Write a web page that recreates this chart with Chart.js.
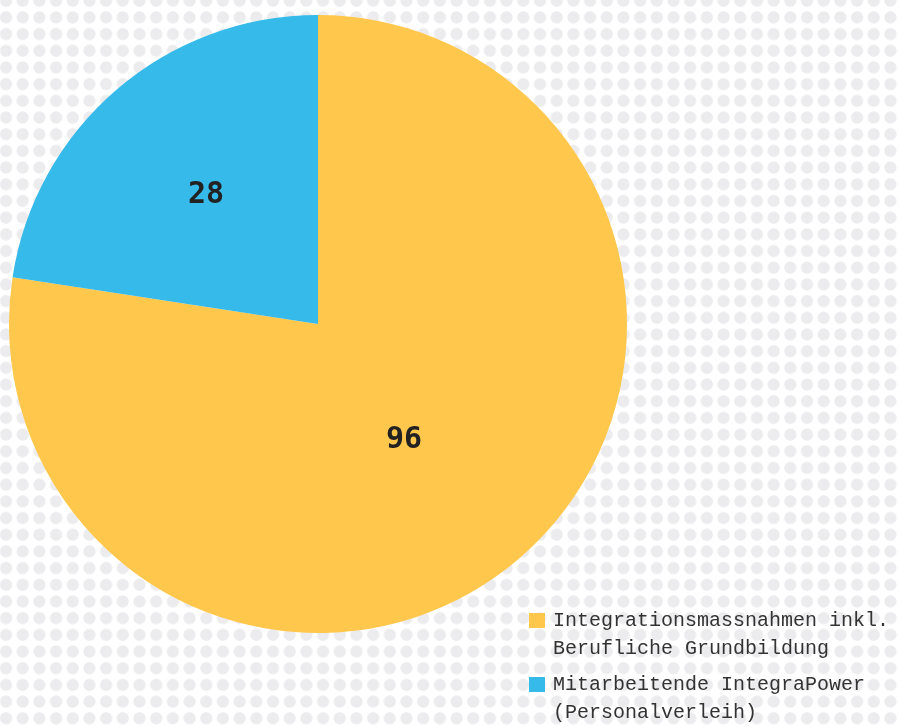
<!DOCTYPE html>
<html>
<head>
<meta charset="utf-8">
<script src="https://cdn.jsdelivr.net/npm/chart.js@4/dist/chart.umd.min.js"></script>
<style>
  html, body { margin:0; padding:0; }
  body {
    width:900px; height:727px; overflow:hidden; position:relative;
    background-color:#ffffff;
    background-image: radial-gradient(circle, #ececee 5.7px, rgba(236,236,238,0) 6.4px);
    background-size: 16.7px 16.7px;
    background-position: -2.35px -7.65px;
  }
  #wrap { position:absolute; left:0; top:0; width:900px; height:727px; }
  #legend { position:absolute; left:529px; top:607px; font-family:"Liberation Mono", "DejaVu Sans Mono", monospace; font-size:20px; line-height:28px; color:#333; }
  .item { position:relative; padding-left:24px; white-space:nowrap; margin-bottom:8px; }
  .sw { position:absolute; left:0; top:6px; width:16px; height:15px; }
</style>
</head>
<body>
<div id="wrap"><canvas id="c" width="900" height="727"></canvas></div>
<div id="legend"></div>
<script>
const categories = [
  ["Integrationsmassnahmen inkl.", "Berufliche Grundbildung"],
  ["Mitarbeitende IntegraPower", "(Personalverleih)"]
];
const values = [96, 28];
const colors = ["#FFC84C", "#35BAEA"];

const labelPlugin = {
  id: 'sliceLabels',
  afterDatasetsDraw(chart, args, opts) {
    const ctx = chart.ctx;
    const meta = chart.getDatasetMeta(0);
    ctx.save();
    ctx.font = 'bold 30px "DejaVu Sans Mono", monospace';
    ctx.fillStyle = '#222';
    ctx.textAlign = 'center';
    ctx.textBaseline = 'middle';
    meta.data.forEach((arc, i) => {
      const p = arc.getProps(['x','y','startAngle','endAngle','outerRadius'], true);
      const mid = (p.startAngle + p.endAngle) / 2 + opts.angleShift[i] * Math.PI / 180;
      const r = p.outerRadius * opts.radiusFrac[i];
      const txt = String(chart.data.datasets[0].data[i]);
      ctx.fillText(txt, p.x + Math.cos(mid) * r, p.y + Math.sin(mid) * r + 2);
    });
    ctx.restore();
  }
};

new Chart(document.getElementById('c'), {
  type: 'pie',
  data: {
    labels: categories.map(c => c.join(' ')),
    datasets: [{ data: values, backgroundColor: colors, borderWidth: 0 }]
  },
  options: {
    responsive: false,
    animation: false,
    layout: { padding: { left: 9, top: 15, right: 273, bottom: 94 } },
    plugins: {
      legend: { display: false },
      tooltip: { enabled: false },
      sliceLabels: { radiusFrac: [0.463, 0.556], angleShift: [3.7, 0] }
    }
  },
  plugins: [labelPlugin]
});

const leg = document.getElementById('legend');
categories.forEach((lines, i) => {
  const d = document.createElement('div');
  d.className = 'item';
  const sw = document.createElement('span');
  sw.className = 'sw';
  sw.style.background = colors[i];
  d.appendChild(sw);
  lines.forEach((t, j) => {
    if (j) d.appendChild(document.createElement('br'));
    d.appendChild(document.createTextNode(t));
  });
  leg.appendChild(d);
});
</script>
</body>
</html>
